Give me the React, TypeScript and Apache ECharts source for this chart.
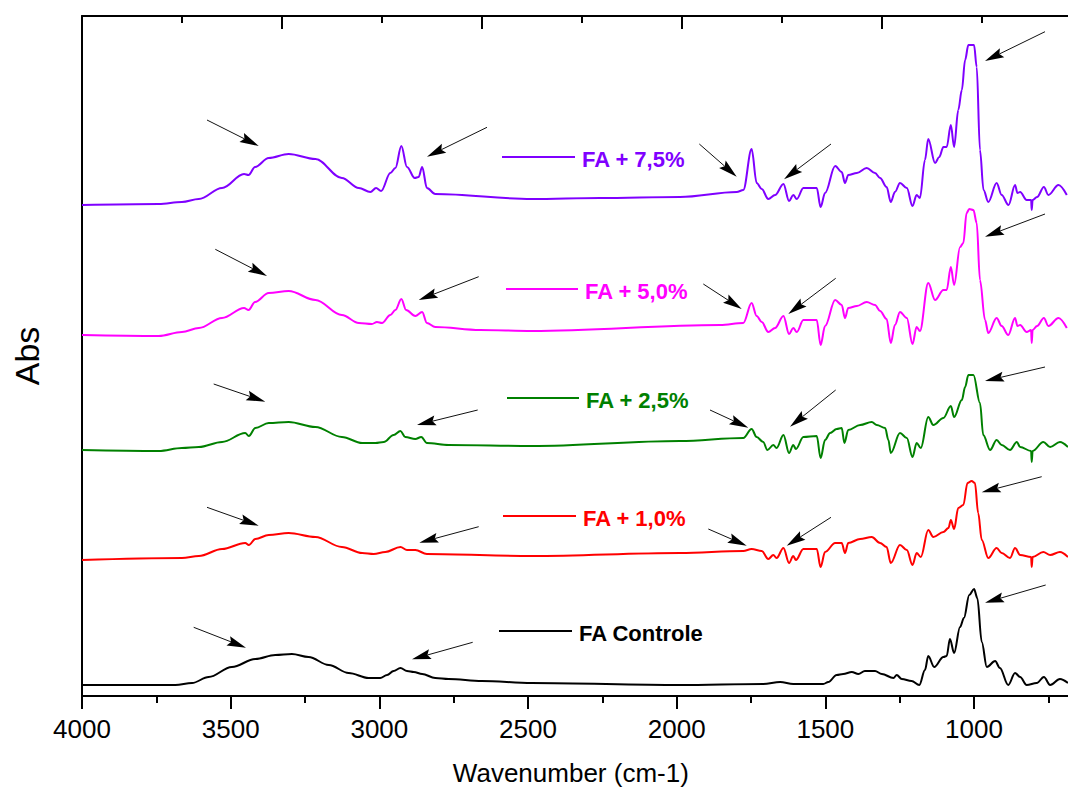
import React, { useEffect, useRef } from 'react';
import * as echarts from 'echarts';

// ---- data (wavenumber cm-1, absorbance with vertical offset) ----
const seriesNames = ['FA Controle', 'FA + 1,0%', 'FA + 2,5%', 'FA + 5,0%', 'FA + 7,5%'];
const seriesColors = ['#000000', '#ff0000', '#008000', '#ff00ff', '#7f00ff'];

const faControle: [number, number][] = [
  [4000, 0.11], [3686, 0.11], [3630, 0.13], [3574, 0.19], [3496, 0.29], [3417, 0.37], [3350, 0.41],
  [3294, 0.42], [3238, 0.39], [3170, 0.31], [3103, 0.23], [3036, 0.18], [2997, 0.18], [2974, 0.21],
  [2952, 0.25], [2929, 0.28], [2907, 0.25], [2884, 0.24], [2856, 0.22], [2812, 0.18], [2767, 0.17],
  [2655, 0.15], [2487, 0.13], [1989, 0.11], [1709, 0.12], [1652, 0.14], [1608, 0.12], [1507, 0.12],
  [1490, 0.14], [1462, 0.21], [1440, 0.22], [1411, 0.24], [1389, 0.22], [1367, 0.25], [1333, 0.25],
  [1310, 0.22], [1271, 0.18], [1260, 0.21], [1243, 0.17], [1210, 0.15], [1184, 0.11], [1165, 0.26],
  [1154, 0.40], [1134, 0.29], [1103, 0.39], [1092, 0.40], [1081, 0.57], [1067, 0.43], [1047, 0.69],
  [1034, 0.78], [1016, 1.01], [1000, 1.07], [989, 0.98], [974, 0.54], [957, 0.29], [929, 0.35],
  [913, 0.28], [885, 0.11], [862, 0.23], [845, 0.19], [823, 0.11], [789, 0.13], [765, 0.19],
  [744, 0.11], [711, 0.17], [684, 0.13],
];

const fa10: [number, number][] = [
  [4000, 1.36], [3664, 1.38], [3607, 1.40], [3529, 1.47], [3451, 1.53], [3439, 1.51], [3417, 1.57],
  [3372, 1.61], [3305, 1.63], [3215, 1.59], [3126, 1.49], [3058, 1.43], [3019, 1.42], [2980, 1.44],
  [2929, 1.49], [2907, 1.46], [2879, 1.46], [2840, 1.42], [2487, 1.40], [1989, 1.43], [1776, 1.45],
  [1748, 1.47], [1714, 1.45], [1692, 1.37], [1675, 1.41], [1664, 1.38], [1641, 1.48], [1622, 1.33],
  [1608, 1.40], [1599, 1.36], [1574, 1.47], [1529, 1.47], [1516, 1.29], [1501, 1.44], [1467, 1.53],
  [1445, 1.53], [1434, 1.43], [1423, 1.53], [1383, 1.57], [1344, 1.59], [1316, 1.53], [1294, 1.49],
  [1280, 1.33], [1249, 1.51], [1226, 1.46], [1207, 1.31], [1193, 1.43], [1179, 1.39], [1154, 1.66],
  [1137, 1.59], [1103, 1.64], [1086, 1.68], [1078, 1.76], [1067, 1.67], [1053, 1.88], [1036, 1.91],
  [1022, 2.13], [1008, 2.15], [997, 2.13], [986, 1.83], [974, 1.56], [952, 1.38], [924, 1.48],
  [907, 1.43], [879, 1.38], [862, 1.48], [845, 1.41], [808, 1.39], [806, 1.29], [803, 1.39],
  [767, 1.44], [744, 1.41], [711, 1.44], [684, 1.39],
];

const fa25: [number, number][] = [
  [4000, 2.46], [3742, 2.45], [3664, 2.48], [3607, 2.49], [3529, 2.54], [3451, 2.63], [3439, 2.60],
  [3417, 2.68], [3372, 2.73], [3305, 2.74], [3215, 2.69], [3126, 2.59], [3058, 2.53], [3013, 2.53],
  [2985, 2.54], [2952, 2.61], [2929, 2.65], [2913, 2.59], [2879, 2.57], [2859, 2.59], [2840, 2.53],
  [2767, 2.51], [2487, 2.50], [1989, 2.55], [1776, 2.58], [1748, 2.67], [1731, 2.59], [1709, 2.54],
  [1695, 2.46], [1675, 2.51], [1664, 2.48], [1641, 2.61], [1622, 2.43], [1608, 2.51], [1599, 2.47],
  [1574, 2.59], [1529, 2.60], [1516, 2.38], [1501, 2.56], [1484, 2.63], [1462, 2.67], [1445, 2.68],
  [1436, 2.53], [1423, 2.66], [1383, 2.71], [1344, 2.74], [1327, 2.71], [1299, 2.68], [1288, 2.56],
  [1280, 2.43], [1249, 2.63], [1226, 2.58], [1207, 2.39], [1193, 2.53], [1179, 2.48], [1154, 2.79],
  [1137, 2.71], [1103, 2.78], [1078, 2.90], [1067, 2.79], [1041, 2.96], [1030, 3.09], [1019, 3.21],
  [1002, 3.21], [980, 2.93], [969, 2.61], [946, 2.46], [924, 2.56], [907, 2.51], [879, 2.46],
  [856, 2.54], [845, 2.49], [808, 2.45], [806, 2.34], [803, 2.45], [767, 2.54], [744, 2.49],
  [711, 2.54], [684, 2.49],
];

const fa50: [number, number][] = [
  [4000, 3.61], [3742, 3.60], [3664, 3.64], [3607, 3.68], [3529, 3.78], [3455, 3.88], [3440, 3.86],
  [3418, 3.94], [3372, 4.03], [3305, 4.05], [3215, 3.96], [3126, 3.81], [3069, 3.73], [3025, 3.72],
  [3008, 3.74], [2991, 3.73], [2963, 3.81], [2946, 3.86], [2926, 3.97], [2910, 3.86], [2879, 3.80],
  [2856, 3.84], [2840, 3.73], [2812, 3.69], [2661, 3.66], [2487, 3.65], [1854, 3.71], [1776, 3.73],
  [1748, 3.93], [1731, 3.80], [1714, 3.74], [1692, 3.64], [1669, 3.68], [1641, 3.80], [1622, 3.62],
  [1608, 3.68], [1596, 3.64], [1574, 3.76], [1529, 3.76], [1516, 3.51], [1501, 3.70], [1467, 3.96],
  [1445, 3.91], [1434, 3.78], [1423, 3.88], [1394, 3.90], [1361, 3.94], [1333, 3.91], [1316, 3.85],
  [1294, 3.77], [1280, 3.53], [1266, 3.71], [1249, 3.84], [1226, 3.78], [1207, 3.52], [1193, 3.69],
  [1182, 3.65], [1154, 4.13], [1131, 3.96], [1103, 4.06], [1092, 4.06], [1078, 4.29], [1067, 4.11],
  [1047, 4.49], [1036, 4.53], [1025, 4.83], [1016, 4.87], [1002, 4.86], [991, 4.73], [980, 4.16],
  [963, 3.76], [952, 3.63], [924, 3.78], [907, 3.70], [885, 3.61], [862, 3.78], [854, 3.70],
  [845, 3.71], [823, 3.64], [808, 3.66], [806, 3.53], [803, 3.66], [788, 3.70], [765, 3.78],
  [750, 3.70], [716, 3.78], [688, 3.68],
];

const fa75: [number, number][] = [
  [4000, 4.91], [3742, 4.92], [3664, 4.94], [3607, 4.97], [3529, 5.08], [3455, 5.22], [3440, 5.21],
  [3418, 5.29], [3372, 5.38], [3305, 5.42], [3215, 5.37], [3126, 5.18], [3069, 5.08], [3030, 5.04],
  [3011, 5.08], [2994, 5.05], [2963, 5.23], [2946, 5.28], [2926, 5.50], [2907, 5.29], [2881, 5.18],
  [2868, 5.19], [2856, 5.29], [2840, 5.08], [2812, 5.02], [2487, 4.97], [2258, 4.98], [1989, 4.99],
  [1798, 5.04], [1776, 5.06], [1748, 5.47], [1731, 5.13], [1714, 5.07], [1692, 4.97], [1669, 5.01],
  [1641, 5.12], [1622, 4.95], [1608, 5.01], [1596, 4.97], [1574, 5.08], [1529, 5.08], [1516, 4.89],
  [1501, 5.03], [1467, 5.30], [1445, 5.24], [1434, 5.13], [1423, 5.21], [1394, 5.23], [1361, 5.28],
  [1333, 5.23], [1316, 5.18], [1294, 5.09], [1280, 4.94], [1266, 5.04], [1249, 5.13], [1226, 5.08],
  [1207, 4.90], [1193, 5.01], [1182, 4.98], [1165, 5.36], [1154, 5.57], [1131, 5.33], [1117, 5.39],
  [1103, 5.49], [1092, 5.49], [1078, 5.71], [1067, 5.49], [1053, 5.86], [1041, 6.06], [1030, 6.36],
  [1019, 6.51], [1000, 6.51], [991, 6.29], [980, 5.46], [968, 5.06], [952, 4.94], [924, 5.13],
  [907, 5.01], [884, 4.91], [862, 5.11], [854, 5.03], [845, 5.04], [823, 4.96], [808, 4.96],
  [806, 4.86], [803, 4.96], [788, 4.99], [765, 5.09], [750, 5.01], [716, 5.11], [688, 5.01],
];

const seriesData = [faControle, fa10, fa25, fa50, fa75];

const xMin = 500;
const xMax = 4000;
const xInterval = 500;
const yMin = 0;
const yMax = 6.8;

// ---- annotations (pixel positions): tail -> tip ----
const arrows: [number, number, number, number][] = [
  [207, 120, 258.7, 146], [487, 127.3, 427, 156.7], [699.3, 144, 736.7, 176.7], [831, 144, 784, 179.3], [1045, 31.7, 985, 61],
  [215.3, 249.3, 267, 276], [478.7, 276.7, 418.7, 300], [703.3, 284, 741.7, 309], [835.7, 278.3, 788.3, 314], [1045, 214, 985, 236.7],
  [213.7, 384, 265.3, 401.7], [477.7, 410, 417, 425], [710, 410, 748.3, 427.7], [835.7, 390, 790, 426.7], [1045, 367, 985, 381],
  [207, 507.3, 258.7, 525.7], [478.7, 526.7, 419.3, 542.7], [708.3, 529, 746.7, 545.7], [831, 517.3, 786.7, 545.7], [1041.7, 476.7, 981.7, 492.3],
  [193.7, 627.3, 246, 647.7], [472.7, 642.3, 412, 659.3], [1045.7, 585, 985, 602.7],
];

// legend sample: [x1, x2, y, textX]
const labelPos: [number, number, number, number][] = [
  [499, 572, 631, 579],
  [503, 576, 516, 583],
  [507, 579, 398, 586],
  [506, 578, 289, 585],
  [502, 575, 157, 582],
];

const FONT = '"Liberation Sans", Arial, Helvetica, sans-serif';

function arrowGraphic(tx: number, ty: number, hx: number, hy: number) {
  const dx = hx - tx;
  const dy = hy - ty;
  const L = Math.hypot(dx, dy);
  const ux = dx / L;
  const uy = dy / L;
  const headLen = 19;
  const headW = 5;
  const bx = hx - ux * headLen;
  const by = hy - uy * headLen;
  const px = -uy;
  const py = ux;
  return [
    {
      type: 'line',
      z: 100,
      shape: { x1: tx, y1: ty, x2: bx + ux * 3, y2: by + uy * 3 },
      style: { stroke: '#111', lineWidth: 1 },
    },
    {
      type: 'polygon',
      z: 100,
      shape: {
        points: [
          [hx, hy],
          [bx + px * headW, by + py * headW],
          [bx + ux * 3, by + uy * 3],
          [bx - px * headW, by - py * headW],
        ],
      },
      style: { fill: '#000' },
    },
  ];
}

export default function App() {
  const ref = useRef<HTMLDivElement>(null);

  useEffect(() => {
    if (!ref.current) return;
    const chart = echarts.init(ref.current, undefined, { renderer: 'svg' });

    const graphics: any[] = [];
    arrows.forEach((a) => graphics.push(...arrowGraphic(a[0], a[1], a[2], a[3])));
    labelPos.forEach((p, i) => {
      graphics.push({
        type: 'line',
        z: 100,
        shape: { x1: p[0], y1: p[2], x2: p[1], y2: p[2] },
        style: { stroke: seriesColors[i], lineWidth: 2 },
      });
      graphics.push({
        type: 'text',
        z: 100,
        x: p[3],
        y: p[2] + 2,
        style: {
          text: seriesNames[i],
          fill: seriesColors[i],
          font: `bold 22px ${FONT}`,
          textVerticalAlign: 'middle',
          textAlign: 'left',
        },
      });
    });

    const axisLineStyle = { color: '#000', width: 2 };

    chart.setOption({
      animation: false,
      backgroundColor: '#fff',
      grid: {
        left: 82,
        top: 16,
        right: -54.7,
        bottom: 98,
        containLabel: false,
        outerBoundsMode: 'none',
      },
      xAxis: [
        {
          type: 'value',
          inverse: true,
          min: xMin,
          max: xMax,
          interval: xInterval,
          position: 'bottom',
          name: 'Wavenumber (cm-1)',
          nameLocation: 'middle',
          nameGap: 64,
          nameTextStyle: { fontSize: 26, color: '#000', fontFamily: FONT, padding: [0, 63, 0, 0] },
          axisLine: { onZero: false, lineStyle: axisLineStyle },
          axisTick: { show: true, inside: false, length: 13, lineStyle: axisLineStyle },
          minorTick: { show: true, splitNumber: 2, length: 7, lineStyle: axisLineStyle },
          axisLabel: {
            fontSize: 26,
            color: '#000',
            fontFamily: FONT,
            margin: 20,
            showMinLabel: false,
            formatter: (v: number) => (v <= xMin ? '' : String(v)),
          },
          splitLine: { show: false },
          minorSplitLine: { show: false },
        },
        {
          type: 'value',
          position: 'top',
          min: 0,
          max: 1040.7,
          interval: 200,
          axisLine: { onZero: false, lineStyle: axisLineStyle },
          axisTick: { show: true, inside: true, length: 13, lineStyle: axisLineStyle },
          minorTick: { show: true, splitNumber: 2, length: 7, lineStyle: axisLineStyle },
          axisLabel: { show: false },
          splitLine: { show: false },
          minorSplitLine: { show: false },
        },
      ],
      yAxis: {
        type: 'value',
        min: yMin,
        max: yMax,
        name: 'Abs',
        nameLocation: 'middle',
        nameRotate: 90,
        nameGap: 38,
        nameTextStyle: { fontSize: 34, color: '#000', fontFamily: FONT },
        axisLine: { show: true, onZero: false, lineStyle: axisLineStyle },
        axisTick: { show: false },
        axisLabel: { show: false },
        splitLine: { show: false },
      },
      series: seriesData.map((d, i) => ({
        name: seriesNames[i],
        type: 'line',
        xAxisIndex: 0,
        yAxisIndex: 0,
        data: d,
        showSymbol: false,
        symbol: 'none',
        smooth: 0.35,
        smoothMonotone: 'x',
        lineStyle: { color: seriesColors[i], width: 2 },
        itemStyle: { color: seriesColors[i] },
        z: 2 + i,
      })),
      graphic: graphics,
    });

    return () => chart.dispose();
  }, []);

  return (
    <div
      ref={ref}
      style={{ position: 'absolute', left: 0, top: 0, width: 1068, height: 794, background: '#fff' }}
    />
  );
}
